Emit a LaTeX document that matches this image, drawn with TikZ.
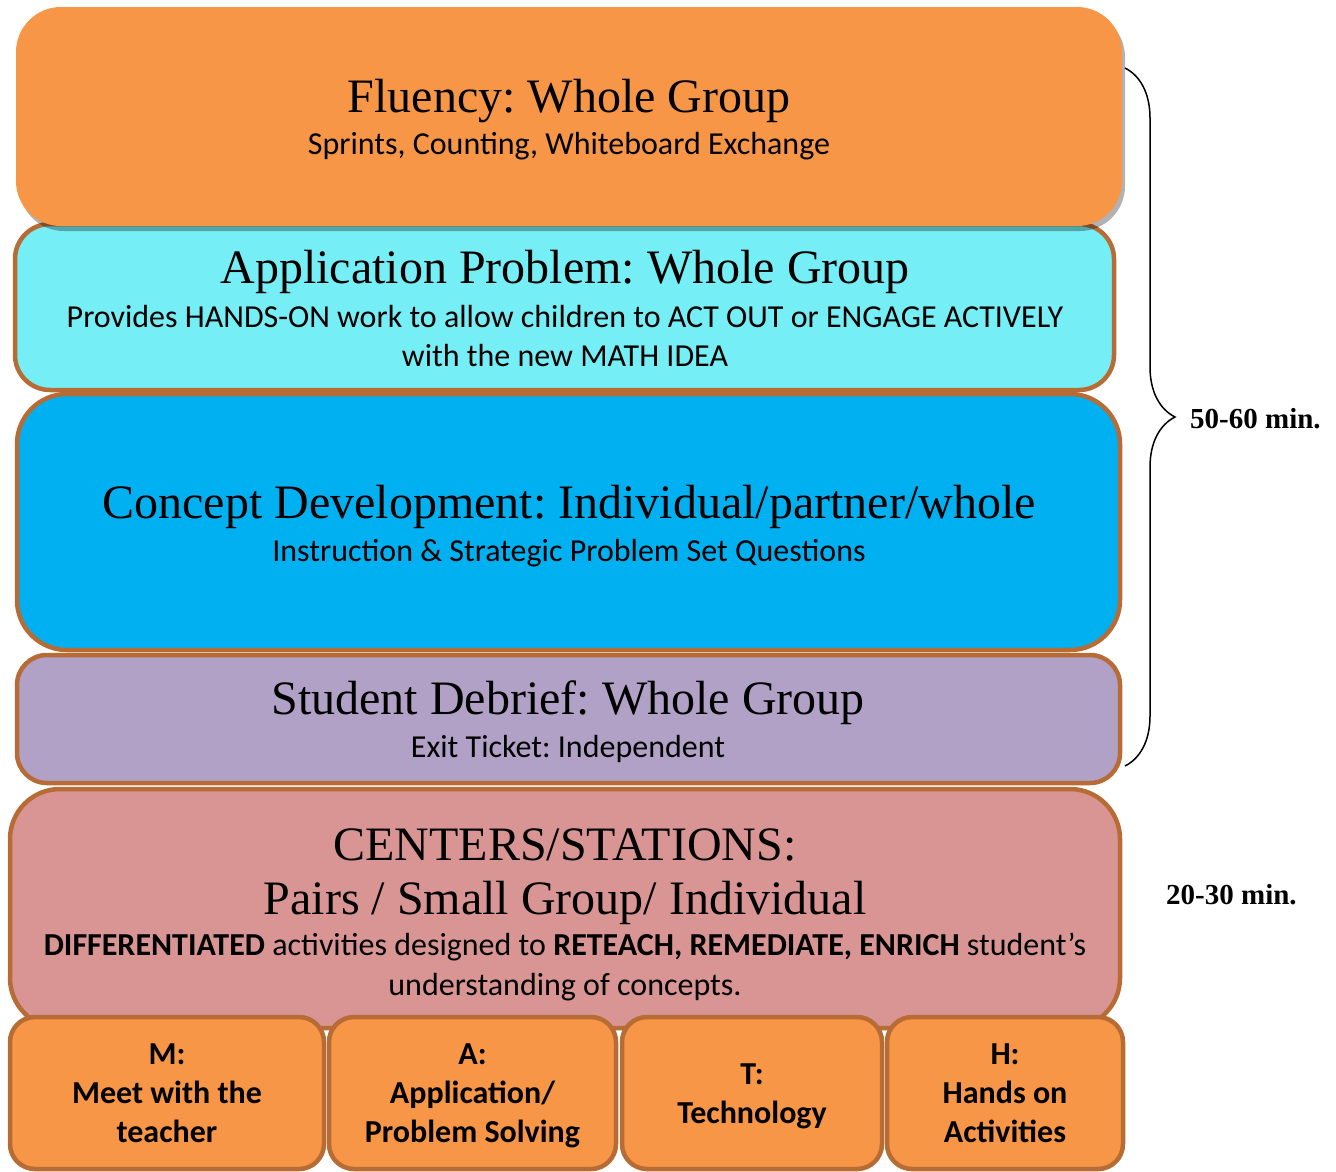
\documentclass[tikz,border=0pt]{standalone}
\usepackage{fontspec}
\setmainfont{Liberation Serif}
\newfontfamily\calibri{Carlito}
\usetikzlibrary{shadows,decorations.pathreplacing}
\frenchspacing

\definecolor{naranja}{RGB}{247,150,70}
\definecolor{turquesa}{RGB}{117,238,245}
\definecolor{azul}{RGB}{0,176,240}
\definecolor{lila}{RGB}{178,161,199}
\definecolor{rosa}{RGB}{217,149,148}
\definecolor{borde}{RGB}{182,108,52}

\begin{document}
\begin{tikzpicture}[x=1pt, y=-1pt,
	caja/.style={draw=borde, line width=4.5pt, rounded corners=#1, inner sep=0pt},
	titulo/.style={anchor=base, inner sep=0pt, font=\fontsize{48}{52}\selectfont},
	sub/.style={anchor=base, inner sep=0pt, font=\calibri\fontsize{32}{39}\selectfont},
	minutos/.style={anchor=base west, inner sep=0pt, font=\bfseries\fontsize{29}{34}\selectfont}]

\useasboundingbox (0,0) rectangle (1336,1171);

% Cajas
\node[caja=50pt, fill=rosa, minimum width=1110, minimum height=239] (centers) at (565,908.5) {};
\node[caja=30pt, fill=lila, minimum width=1103, minimum height=128] (debrief) at (568.5,719) {};
\node[caja=50pt, fill=azul, minimum width=1103, minimum height=256] (concept) at (568.5,522) {};
\node[caja=35pt, fill=turquesa, minimum width=1099, minimum height=166] (appl) at (564.5,307) {};
\node[rounded corners=45pt, fill=naranja, minimum width=1106, minimum height=219,
	drop shadow={shadow xshift=3pt, shadow yshift=-5pt, fill=black, opacity=.3}] (fluency) at (569,116.5) {};

% Estaciones
\foreach \nm/\cx/\w/\txt in {M/167/314/{M:\\Meet with the\\teacher\strut},
		A/472.5/287/{A:\\Application/\\Problem Solving\strut},
		T/752/260/{T:\\Technology\strut},
		H/1005/236/{H:\\Hands on\\Activities\strut}}
{
	\node[caja=25pt, fill=naranja, minimum width=\w, minimum height=152] (\nm) at (\cx,1093) {};
	\node[align=center, inner sep=0pt, font=\calibri\bfseries\fontsize{32}{39}\selectfont]
		(\nm-t) at (\cx,1096) {\strut\txt};
}

% Textos
\node[titulo] (fluT) at (569,112) {Fluency: Whole Group};
\node[sub] (fluS) at (569,154) {Sprints, Counting, Whiteboard Exchange};

\node[titulo] (applT) at (565,283) {Application Problem: Whole Group};
\node[sub] (applS) at (565,327) {Provides HANDS-ON work to allow children to ACT OUT or ENGAGE ACTIVELY};
\node[sub] (applS2) at (565,366) {with the new MATH IDEA};

\node[titulo] (conT) at (569,518) {Concept Development: Individual/partner/whole};
\node[sub] (conS) at (569,561) {Instruction \& Strategic Problem Set Questions};

\node[titulo] (debT) at (568,714) {Student Debrief: Whole Group};
\node[sub] (debS) at (568,757) {Exit Ticket: Independent};

\node[titulo] (cenT) at (565,860) {CENTERS/STATIONS:};
\node[titulo] (cenT2) at (565,914) {Pairs / Small Group/ Individual};
\node[sub] (cenS) at (565,955) {\textbf{DIFFERENTIATED} activities designed to \textbf{RETEACH, REMEDIATE, ENRICH} student’s};
\node[sub] (cenS2) at (565,995) {understanding of concepts.};

% Llave y tiempos
\coordinate (b1) at (1125,68);
\coordinate (b2) at (1125,766);
\draw[decorate, decoration={brace, amplitude=50pt}, line width=1.5pt] (b1) -- (b2);
\node[minutos] (t1) at (1190,428) {50-60 min.};
\node[minutos] (t2) at (1166,904) {20-30 min.};
\end{tikzpicture}
\end{document}
